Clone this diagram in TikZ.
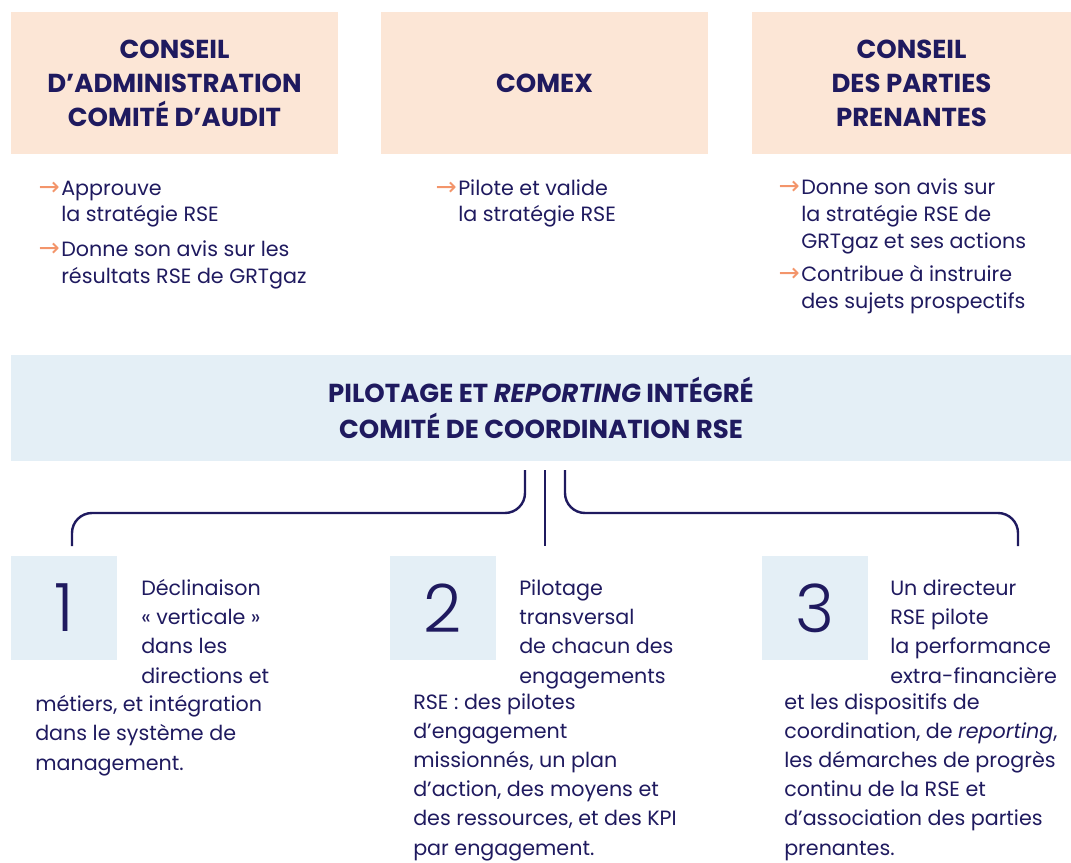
\documentclass[tikz,border=0pt]{standalone}
\usepackage{fontspec}
\setmainfont{Poppins}
\newfontfamily\symfont{DejaVu Sans}
\newfontfamily\thinfont{Poppins Light}

\definecolor{navy}{HTML}{1F1A5F}
\definecolor{peach}{HTML}{FCE6D6}
\definecolor{paleblue}{HTML}{E4EFF6}
\definecolor{accent}{HTML}{F3956B}

\newcommand{\arr}{\llap{{\color{accent}\symfont\fontsize{19}{19}\selectfont →}\hspace{1pt}}}

\tikzset{
	headbox/.style={fill=peach, inner sep=0pt, minimum height=106.5pt, align=center,
		font=\bfseries\fontsize{19.5}{25.5}\selectfont},
	bandbox/.style={fill=paleblue, inner sep=0pt, minimum width=795pt, minimum height=79.5pt,
		align=center, font=\bfseries\fontsize{19.5}{27}\selectfont},
	numbox/.style={fill=paleblue, inner sep=0pt, minimum width=79.5pt, minimum height=78pt,
		font=\thinfont\fontsize{50}{50}\selectfont},
	bullet/.style={anchor=base west, inner sep=0pt, align=left,
		font=\fontsize{15.5}{20.25}\selectfont},
	body/.style={anchor=base west, inner sep=0pt, align=left,
		font=\fontsize{15.5}{21.8}\selectfont},
	link/.style={draw=navy, line width=1.8pt, rounded corners=15pt}
}

\begin{document}
\begin{tikzpicture}[x=0.75pt, y=-0.75pt, text=navy]
	\useasboundingbox (0,0) rectangle (1071,863);

	% top row
	\node [headbox, minimum width=245.25pt] (ca) at (174.5, 83) {CONSEIL\\D’ADMINISTRATION\\COMITÉ D’AUDIT};
	\node [headbox, minimum width=245.25pt] (comex) at (544.5, 83) {COMEX};
	\node [headbox, minimum width=239.25pt] (cpp) at (911.5, 83) {CONSEIL\\DES PARTIES\\PRENANTES};

	% base = last line
	\node [bullet] (ca1) at (61, 222) {\arr Approuve\\la stratégie RSE};
	\node [bullet] (ca2) at (61, 283) {\arr Donne son avis sur les\\résultats RSE de GRTgaz};
	\node [bullet] (comex1) at (458, 222) {\arr Pilote et valide\\la stratégie RSE};
	\node [bullet] (cpp1) at (801, 248) {\arr Donne son avis sur\\la stratégie RSE de\\GRTgaz et ses actions};
	\node [bullet] (cpp2) at (801, 308) {\arr Contribue à instruire\\des sujets prospectifs};

	% band
	\node [bandbox] (band) at (541, 408) {PILOTAGE ET \textit{REPORTING} INTÉGRÉ\\COMITÉ DE COORDINATION RSE};

	\coordinate (l0) at (525, 470);
	\coordinate (c0) at (545, 470);
	\coordinate (r0) at (565, 470);
	\coordinate (l1) at (72, 546);
	\coordinate (c1) at (545, 546);
	\coordinate (r1) at (1018, 546);
	\coordinate (mid) at (0, 513);
	\draw [link] (l0) -- (l0 |- mid) -- (l1 |- mid) -- (l1);
	\draw [link] (c0) -- (c1);
	\draw [link] (r0) -- (r0 |- mid) -- (r1 |- mid) -- (r1);

	% bottom row
	\node [numbox] (n1) at (64, 608) {1};
	\node [numbox] (n2) at (443, 608) {2};
	\node [numbox] (n3) at (814.5, 608) {3};

	\node [body] (t1a) at (141, 683) {Déclinaison\\« verticale »\\dans les\\directions et};
	\node [body] (t1b) at (35, 770) {métiers, et intégration\\dans le système de\\management.};
	\node [body] (t2a) at (519, 683) {Pilotage\\transversal\\de chacun des\\engagements};
	\node [body] (t2b) at (413, 855) {RSE : des pilotes\\d’engagement\\missionnés, un plan\\d’action, des moyens et\\des ressources, et des KPI\\par engagement.};
	\node [body] (t3a) at (890, 683) {Un directeur\\RSE pilote\\la performance\\extra-financière};
	\node [body] (t3b) at (784, 855) {et les dispositifs de\\coordination, de \textit{reporting},\\les démarches de progrès\\continu de la RSE et\\d’association des parties\\prenantes.};
\end{tikzpicture}
\end{document}
